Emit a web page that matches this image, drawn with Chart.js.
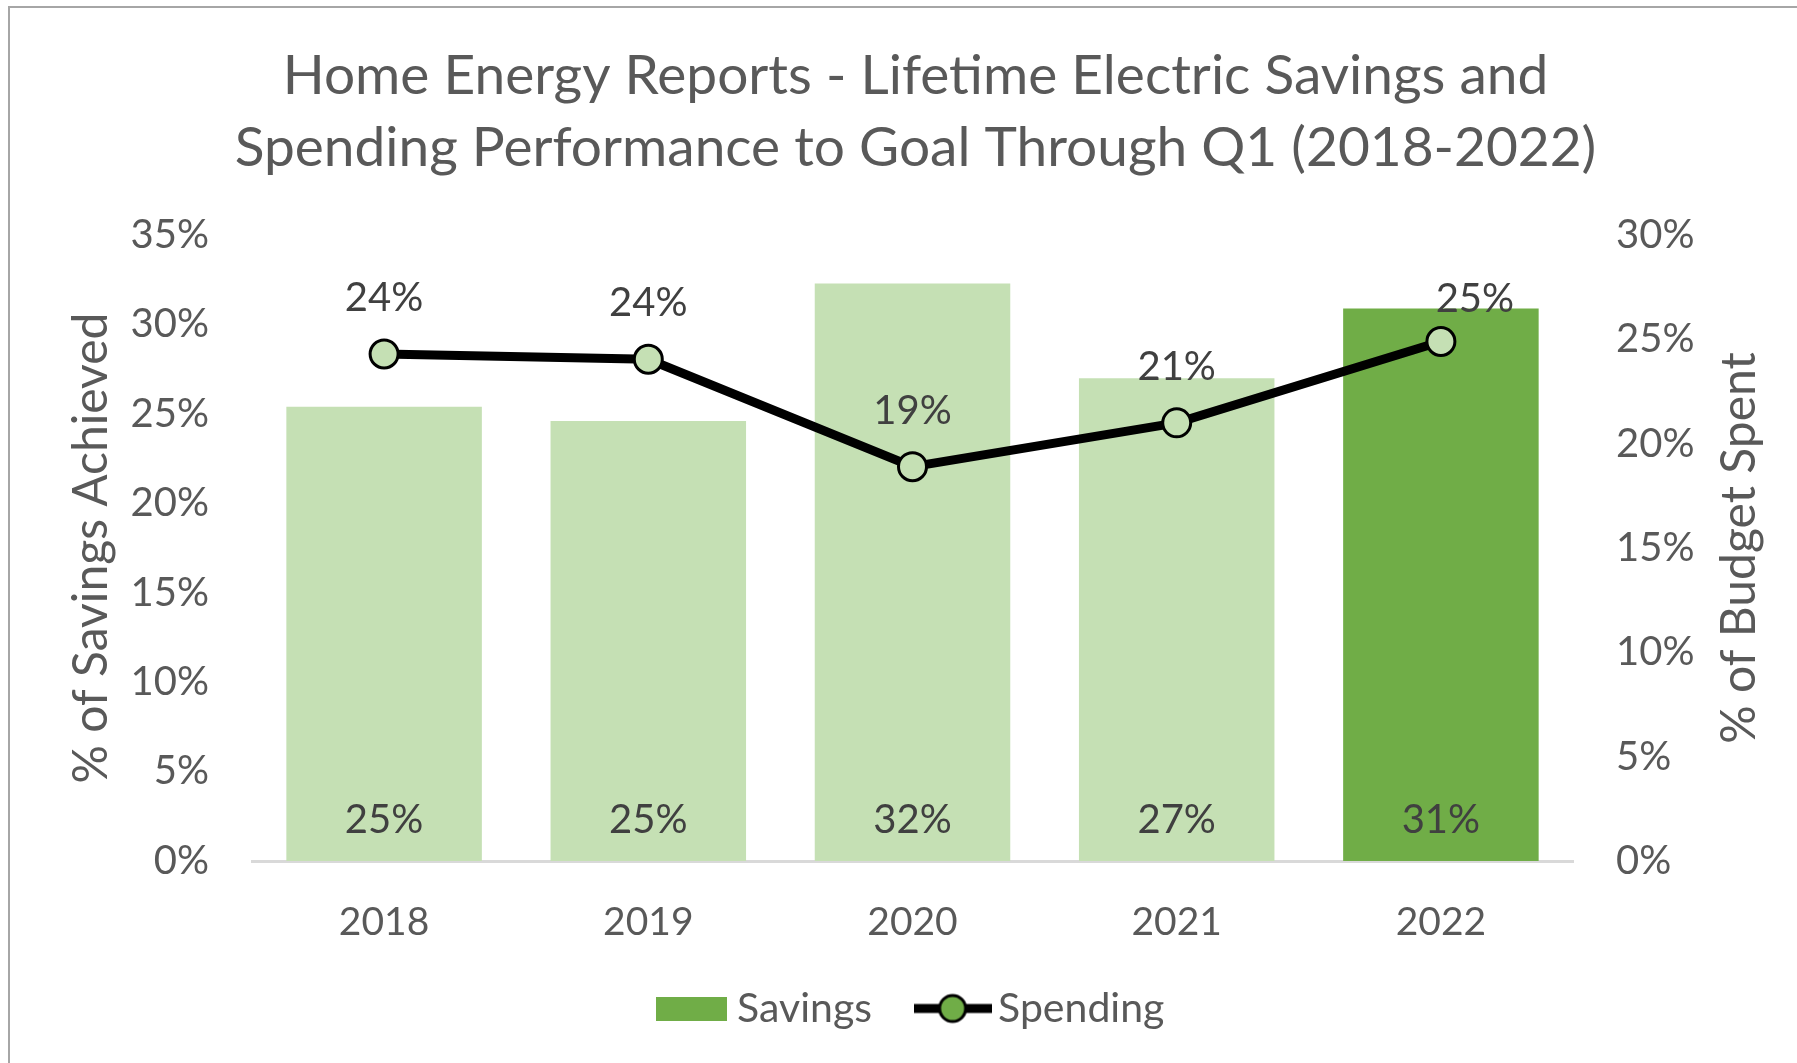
<!DOCTYPE html>
<html>
<head>
<meta charset="utf-8">
<title>Home Energy Reports - Lifetime Electric Savings and Spending</title>
<script src="https://cdn.jsdelivr.net/npm/chart.js@4.4.1/dist/chart.umd.min.js"></script>
<style>
  html, body { margin: 0; padding: 0; background: #fff; }
  #wrap { position: relative; width: 1797px; height: 1063px; overflow: hidden; }
  #frame { position: absolute; left: 8px; top: 6px; width: 1800px; height: 1100px; border: 2px solid #a6a6a6; pointer-events: none; }
</style>
</head>
<body>
<div id="wrap">
  <canvas id="chart" width="1797" height="1063"></canvas>
  <div id="frame"></div>
</div>
<script>
const years = ['2018', '2019', '2020', '2021', '2022'];
const savings = [25.4, 24.6, 32.3, 27.0, 30.9];
const spending = [24.3, 24.05, 18.9, 21.0, 24.9];
const savingsLabels = ['25%', '25%', '32%', '27%', '31%'];
const spendingLabels = ['24%', '24%', '19%', '21%', '25%'];
const leftAxisMax = 35;
const rightAxisMax = 30;

const LIGHT = '#C5E0B4';
const DARK = '#70AD47';
const TEXT = '#595959';
const FONT = 'Lato';

// label offsets for the spending line (last one was nudged in the original)
const lineLabelDx = [0, 0, 0, 0, 34];
const lineLabelDy = [56, 56, 56, 56, 42];

function legendBox() {
    const c = document.createElement('canvas');
    c.width = 71;
    c.height = 24;
    const g = c.getContext('2d');
    g.fillStyle = DARK;
    g.fillRect(0, 0, 71, 24);
    return c;
}

function legendLine() {
    const c = document.createElement('canvas');
    c.width = 78;
    c.height = 36;
    const g = c.getContext('2d');
    g.strokeStyle = '#000';
    g.lineWidth = 9;
    g.beginPath();
    g.moveTo(0, 18);
    g.lineTo(78, 18);
    g.stroke();
    g.beginPath();
    g.arc(39, 18, 13, 0, Math.PI * 2);
    g.fillStyle = DARK;
    g.fill();
    g.lineWidth = 3;
    g.stroke();
    return c;
}

const valueLabels = {
    id: 'valueLabels',
    afterDatasetsDraw(chart) {
        const ctx = chart.ctx;
        ctx.save();
        ctx.font = '40px ' + FONT;
        ctx.fillStyle = '#404040';
        ctx.textAlign = 'center';
        ctx.textBaseline = 'middle';
        chart.getDatasetMeta(1).data.forEach((bar, i) => {
            ctx.fillText(savingsLabels[i], bar.x, bar.base - 41);
        });
        chart.getDatasetMeta(0).data.forEach((pt, i) => {
            ctx.fillText(spendingLabels[i], pt.x + lineLabelDx[i], pt.y - lineLabelDy[i]);
        });
        ctx.restore();
    }
};

// right axis title reads bottom-to-top like the left one
const rightTitle = {
    id: 'rightTitle',
    afterDraw(chart) {
        const s = chart.scales.yRight;
        const ctx = chart.ctx;
        ctx.save();
        ctx.translate(s.right - 57, (chart.chartArea.top + chart.chartArea.bottom) / 2);
        ctx.rotate(-Math.PI / 2);
        ctx.font = '48px ' + FONT;
        ctx.fillStyle = TEXT;
        ctx.textAlign = 'center';
        ctx.textBaseline = 'middle';
        ctx.fillText('% of Budget Spent', 0, 0);
        ctx.restore();
    }
};

function draw() {
    const tickFont = { family: FONT, size: 40 };
    new Chart(document.getElementById('chart'), {
        type: 'bar',
        data: {
            labels: years,
            datasets: [{
                type: 'line',
                label: 'Spending',
                data: spending,
                yAxisID: 'yRight',
                borderColor: '#000',
                borderWidth: 9,
                pointRadius: 14,
                pointBorderWidth: 3,
                pointBorderColor: '#000',
                pointBackgroundColor: LIGHT,
                tension: 0,
                order: 0
            }, {
                type: 'bar',
                label: 'Savings',
                data: savings,
                yAxisID: 'yLeft',
                backgroundColor: years.map((y, i) => i === years.length - 1 ? DARK : LIGHT),
                barPercentage: 0.74,
                categoryPercentage: 1,
                order: 1
            }]
        },
        options: {
            responsive: false,
            animation: false,
            layout: { padding: { left: 34, right: 0, top: 0, bottom: 24 } },
            plugins: {
                tooltip: { enabled: false },
                title: {
                    display: true,
                    text: ['Home Energy Reports - Lifetime Electric Savings and',
                           'Spending Performance to Goal Through Q1 (2018-2022)'],
                    color: TEXT,
                    font: { family: FONT, size: 55, weight: 'normal', lineHeight: 1.31 },
                    padding: { top: 40, bottom: 51 }
                },
                legend: {
                    position: 'bottom',
                    labels: {
                        usePointStyle: true,
                        pointStyleWidth: 50,
                        padding: 42,
                        color: TEXT,
                        font: { family: FONT, size: 41 },
                        generateLabels: () => [
                            { text: 'Savings\u2004', pointStyle: legendBox(), fontColor: TEXT, datasetIndex: 1, lineWidth: 0 },
                            { text: 'Spending', pointStyle: legendLine(), fontColor: TEXT, datasetIndex: 0, lineWidth: 0 }
                        ]
                    }
                }
            },
            scales: {
                x: {
                    grid: { display: false, drawTicks: false },
                    border: { display: true, color: '#D9D9D9', width: 3 },
                    ticks: { font: { family: FONT, size: 39 }, color: TEXT, padding: 38 },
                    afterFit(s) { s.height = 85; }
                },
                yLeft: {
                    position: 'left',
                    min: 0,
                    max: leftAxisMax,
                    grid: { display: false, drawTicks: false },
                    border: { display: false },
                    ticks: { stepSize: 5, font: tickFont, color: TEXT, padding: 43, callback: v => v + '%' },
                    title: {
                        display: true,
                        text: '% of Savings Achieved',
                        color: TEXT,
                        font: { family: FONT, size: 48 },
                        padding: { top: 29, bottom: 0 }
                    },
                    afterFit(s) { s.width = 218; }
                },
                yRight: {
                    position: 'right',
                    min: 0,
                    max: rightAxisMax,
                    grid: { display: false, drawTicks: false },
                    border: { display: false },
                    ticks: { stepSize: 5, font: tickFont, color: TEXT, padding: 43, callback: v => v + '%' },
                    title: { display: false },
                    afterFit(s) { s.width = 224; }
                }
            }
        },
        plugins: [valueLabels, rightTitle]
    });
}

document.fonts.load('40px ' + FONT).then(draw, draw);
</script>
</body>
</html>
